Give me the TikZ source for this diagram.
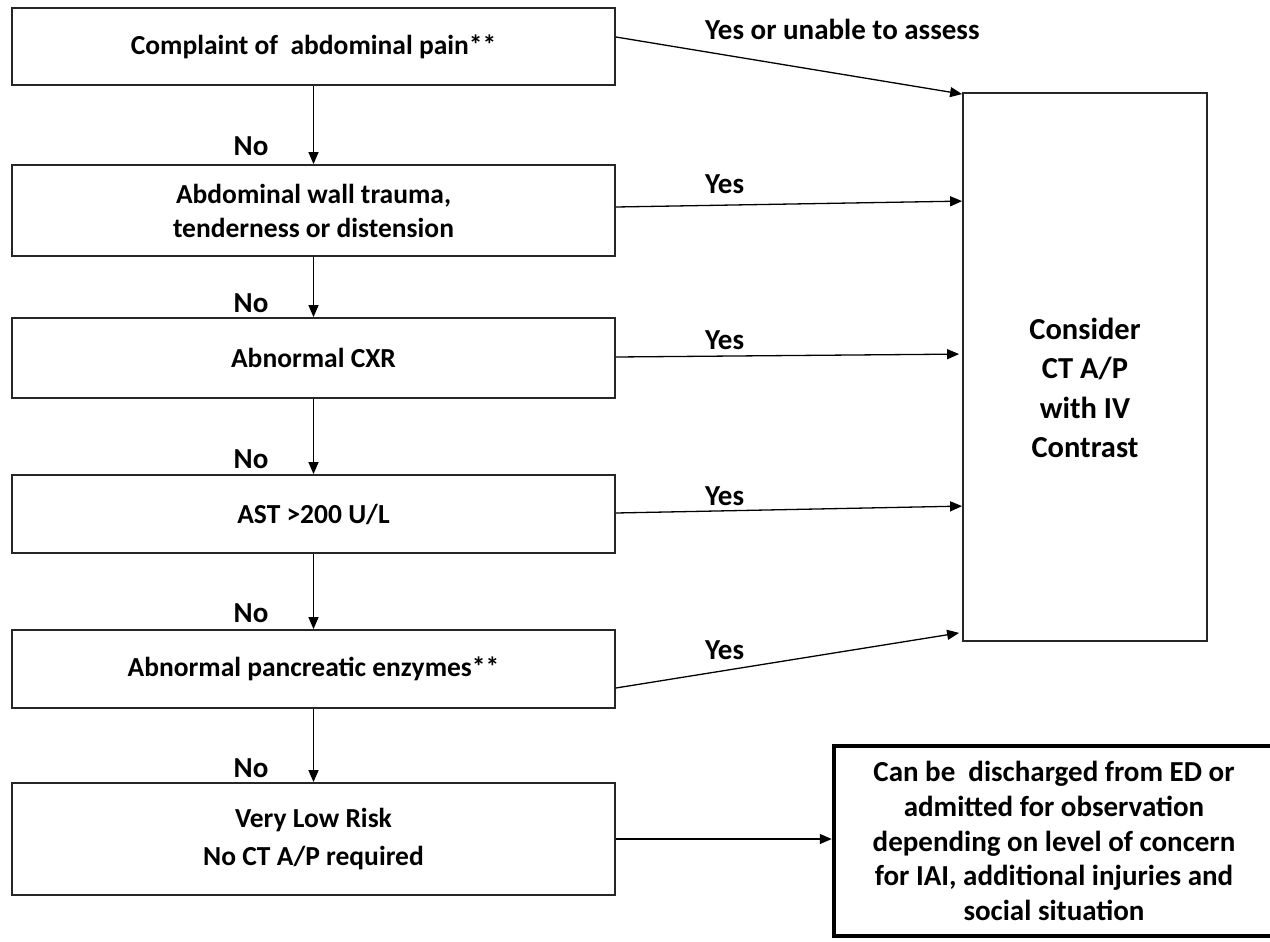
\documentclass[tikz,border=0pt]{standalone}
\usepackage{fontspec}
\setmainfont{Carlito}
\usetikzlibrary{arrows.meta,calc}
\begin{document}
\begin{tikzpicture}[x=1pt,y=-1pt,
  every node/.style={font=\fontsize{29}{35}\selectfont\bfseries},
  lbox/.style={draw=black!85,line width=1.8pt,minimum width=603pt,align=center,inner sep=0pt},
  arr/.style={-{Triangle[length=12pt,width=10pt]},line width=1.3pt},
  lbl/.style={inner sep=0pt}]
\useasboundingbox (0,0) rectangle (1270,942);
\fill[white] (0,0) rectangle (1270,942);
\node[lbox,minimum height=77pt,font=\fontsize{27.5}{33}\selectfont\bfseries]  (b1) at (313.5,46.5) {Complaint of\ \ abdominal pain**};
\node[lbox,minimum height=91pt,font=\fontsize{27.5}{34}\selectfont\bfseries]  (b2) at (313.5,210.5) {Abdominal wall trauma,\\tenderness or distension};
\node[lbox,minimum height=80pt,font=\fontsize{27.5}{33}\selectfont\bfseries]  (b3) at (313.5,358) {Abnormal CXR};
\node[lbox,minimum height=78pt,font=\fontsize{27.5}{33}\selectfont\bfseries]  (b4) at (313.5,514) {AST >200 U/L};
\node[lbox,minimum height=78pt,font=\fontsize{27.5}{33}\selectfont\bfseries]  (b5) at (313.5,669) {Abnormal pancreatic enzymes**};
\node[lbox,minimum height=112pt,font=\fontsize{27.5}{38}\selectfont\bfseries] (b6) at (313.5,839) {Very Low Risk\\No CT A/P required};
\node[draw=black!85,line width=1.8pt,minimum width=244pt,minimum height=548pt,inner sep=0pt] (ct) at (1085,367) {};
\node[inner sep=0pt,align=center,font=\fontsize{30.5}{39.5}\selectfont\bfseries] (ctt) at ($(ct.center)+(0,21)$) {Consider\\CT A/P\\with IV\\Contrast};
\node[draw=black,line width=4.5pt,minimum width=440pt,minimum height=190pt,inner sep=0pt,align=center,
      font=\fontsize{29}{34.7}\selectfont\bfseries] (dis) at (1054,841)
  {Can be\ \ discharged from ED or\\admitted for observation\\depending on level of concern\\for IAI, additional injuries and\\social situation};
% vertical No arrows
\draw[arr] (b1.south) -- (b2.north);
\draw[arr] (b2.south) -- (b3.north);
\draw[arr] (b3.south) -- (b4.north);
\draw[arr] (b4.south) -- (b5.north);
\draw[arr] (b5.south) -- (b6.north);
\node[lbl] (n1) at (251,146) {No};
\node[lbl] (n2) at (251,303) {No};
\node[lbl] (n3) at (251,459) {No};
\node[lbl] (n4) at (251,613) {No};
\node[lbl] (n5) at (251,768) {No};
% Yes arrows
\draw[arr] ($(b1.east)+(0,-9.5)$) -- ($(ct.north west)+(0,2)$);
\draw[arr] ($(b2.east)+(0,-3.5)$) -- ($(ct.north west)+(0,109)$);
\draw[arr] ($(b3.east)+(0,-1)$) -- ($(ct.north west)+(-3,262)$);
\draw[arr] ($(b4.east)+(0,-1)$) -- ($(ct.north west)+(0,414)$);
\draw[arr] ($(b5.east)+(0,19)$) -- ($(ct.south west)+(-3,-9)$);
\draw[arr] (b6.east) -- (b6.east -| dis.west);
\node[lbl,anchor=west] (y1) at (705,29) {Yes or unable to assess};
\node[lbl,anchor=west] (y2) at (705,184) {Yes};
\node[lbl,anchor=west] (y3) at (705,340) {Yes};
\node[lbl,anchor=west] (y4) at (705,496) {Yes};
\node[lbl,anchor=west] (y5) at (705,650) {Yes};
\end{tikzpicture}
\end{document}
